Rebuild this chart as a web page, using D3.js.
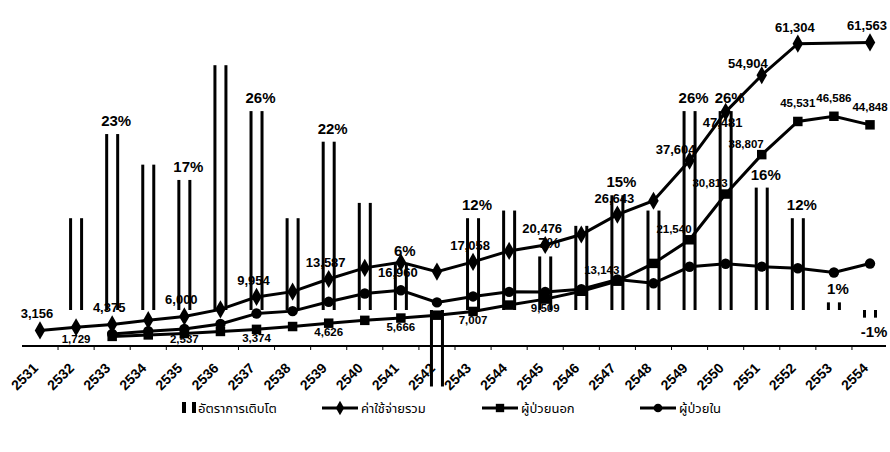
<!DOCTYPE html>
<html>
<head>
<meta charset="utf-8">
<script src="https://cdn.jsdelivr.net/npm/d3@7/dist/d3.min.js"></script>
<style>
    body { margin: 0; background: #fff; }
    svg { display: block; }
</style>
</head>
<body>
<div id="chart"></div>
<script>
// Thai fiscal years
const years = ["2531","2532","2533","2534","2535","2536","2537","2538","2539","2540","2541","2542",
    "2543","2544","2545","2546","2547","2548","2549","2550","2551","2552","2553","2554"];

// growth rate (%) - bars
const growth = [null, 12, 23, 19, 17, 32, 26, 12, 22, 14, 6, -10, 12, 13, 7, 11, 15, 13, 26, 26, 16, 12, 1, -1];
const growthLabels = [null, null, "23%", null, "17%", null, "26%", null, "22%", null, "6%", null,
    "12%", null, "7%", null, "15%", null, "26%", "26%", "16%", "12%", "1%", "-1%"];

// total expenditure
const total = [3156, 3800, 4375, 5240, 6000, 7430, 9954, 11020, 13587, 15840, 16960, 15090,
    17058, 19280, 20476, 22610, 26643, 29460, 37604, 47481, 54904, 61304, null, 61563];
const totalLabels = ["3,156", null, "4,375", null, "6,000", null, "9,954", null, "13,587", null, "16,960", null,
    "17,058", null, "20,476", null, "26,643", null, "37,604", "47,481", "54,904", "61,304", null, "61,563"];
const totalLabelPos = ["a", null, "a", null, "a", null, "a", null, "a", null, "b", null,
    "a", null, "a", null, "a", null, "l", "b", "l", "a", null, "a"];

// outpatient
const outpatient = [null, null, 1950, 2250, 2537, 2950, 3374, 3950, 4626, 5200, 5666, 6250,
    7007, 8300, 9509, 11100, 13143, 16750, 21540, 30813, 38807, 45531, 46586, 44848];
const outLabels = [null, "1,729", null, null, "2,537", null, "3,374", null, "4,626", null, "5,666", null,
    "7,007", null, "9,509", null, "13,143", null, "21,540", "30,813", "38,807", "45,531", "46,586", "44,848"];
const outLabelPos = [null, "b", null, null, "b", null, "b", null, "b", null, "b", null,
    "b", null, "b", null, "l", null, "l", "l", "l", "a", "a", "a"];

// inpatient
const inpatient = [null, null, 2425, 2990, 3463, 4480, 6580, 7070, 8961, 10640, 11294, 8840,
    10051, 10980, 10967, 11510, 13500, 12710, 16064, 16668, 16097, 15773, 14900, 16715];

const legendNames = ["อัตราการเติบโต", "ค่าใช้จ่ายรวม", "ผู้ป่วยนอก", "ผู้ป่วยใน"];

function main() {
    let width = 890;
    let height = 452;
    let numFont = "'Liberation Sans', Arial, sans-serif";
    let thaiFont = "'Noto Sans Thai', 'Noto Sans Thai Looped', Tahoma, 'DejaVu Sans', sans-serif";

    let svg = d3.select("#chart").append("svg")
        .attr("width", width)
        .attr("height", height);

    let xScale = d3.scalePoint().domain(years).range([40, 870]);
    let yScale = d3.scaleLinear().domain([0, 70000]).range([346, 0.8]);
    // secondary scale for growth %
    let pScale = d3.scaleLinear().domain([-10, 40]).range([386.5, 4]);
    let step = xScale.step();

    let rows = years.map(function(y, i) {
        return {year: y, g: growth[i], gl: growthLabels[i],
            t: total[i], tl: totalLabels[i], tp: totalLabelPos[i],
            o: outpatient[i], ol: outLabels[i], op: outLabelPos[i],
            n: inpatient[i]};
    });

    // bars: only side edges drawn
    let bars = svg.append("g").selectAll("g")
        .data(rows.filter(d => d.g != null))
        .enter().append("g");
    bars.append("rect")
        .attr("x", d => xScale(d.year) - 7)
        .attr("y", d => pScale(Math.max(0, d.g)))
        .attr("width", 3)
        .attr("height", d => Math.abs(pScale(d.g) - pScale(0)))
        .attr("fill", "black");
    bars.append("rect")
        .attr("x", d => xScale(d.year) + 4)
        .attr("y", d => pScale(Math.max(0, d.g)))
        .attr("width", 3)
        .attr("height", d => Math.abs(pScale(d.g) - pScale(0)))
        .attr("fill", "black");

    // baseline + small ticks
    svg.append("line")
        .attr("x1", 22).attr("x2", 886)
        .attr("y1", 346).attr("y2", 346)
        .attr("stroke", "black").attr("stroke-width", 2);
    svg.append("g").selectAll("line")
        .data(years.slice(1))
        .enter().append("line")
        .attr("x1", d => xScale(d) - step / 2)
        .attr("x2", d => xScale(d) - step / 2)
        .attr("y1", 346).attr("y2", 350)
        .attr("stroke", "black").attr("stroke-width", 1);

    // lines
    let line = d3.line()
        .x(d => xScale(d.year))
        .y(d => yScale(d.v));
    let series = [
        {key: "t", sym: d3.symbolDiamond, size: 95},
        {key: "o", sym: d3.symbolSquare, size: 90},
        {key: "n", sym: d3.symbolCircle, size: 85}
    ];
    series.forEach(function(s) {
        let pts = rows.filter(d => d[s.key] != null).map(d => ({year: d.year, v: d[s.key]}));
        svg.append("path")
            .datum(pts)
            .attr("d", line)
            .attr("fill", "none")
            .attr("stroke", "black")
            .attr("stroke-width", 3);
        svg.append("g").selectAll("path")
            .data(pts)
            .enter().append("path")
            .attr("transform", d => "translate(" + xScale(d.year) + "," + yScale(d.v) + ")")
            .attr("d", d3.symbol().type(s.sym).size(s.size))
            .attr("fill", "black");
    });

    // growth labels
    svg.append("g").selectAll("text")
        .data(rows.filter(d => d.gl))
        .enter().append("text")
        .attr("x", d => xScale(d.year) + 4)
        .attr("y", d => d.g >= 0 ? pScale(d.g) - 8 : pScale(d.g) + 19)
        .attr("text-anchor", "middle")
        .attr("font-family", numFont)
        .attr("font-weight", "bold")
        .attr("font-size", "15px")
        .text(d => d.gl);

    // total labels
    svg.append("g").selectAll("text")
        .data(rows.filter(d => d.tl))
        .enter().append("text")
        .attr("x", function(d) {
            return d.tp == "l" ? xScale(d.year) + 6 : xScale(d.year) - 3;
        })
        .attr("y", function(d) {
            if (d.tp == "b") return yScale(d.t) + 15;
            if (d.tp == "l") return yScale(d.t) - 7;
            return yScale(d.t) - 12;
        })
        .attr("text-anchor", d => d.tp == "l" ? "end" : "middle")
        .attr("font-family", numFont)
        .attr("font-weight", "bold")
        .attr("font-size", "13px")
        .text(d => d.tl);

    // outpatient labels
    svg.append("g").selectAll("text")
        .data(rows.filter(d => d.ol))
        .enter().append("text")
        .attr("x", function(d) {
            return d.op == "l" ? xScale(d.year) + 2 : xScale(d.year);
        })
        .attr("y", function(d) {
            let v = +d.ol.replace(",", "");
            if (d.op == "b") return Math.min(yScale(v) + 13, 343);
            if (d.op == "l") return yScale(v) - 7;
            return yScale(v) - 14;
        })
        .attr("text-anchor", d => d.op == "l" ? "end" : "middle")
        .attr("font-family", numFont)
        .attr("font-weight", "bold")
        .attr("font-size", "11.5px")
        .text(d => d.ol);

    // x tick labels
    svg.append("g").selectAll("text")
        .data(years)
        .enter().append("text")
        .attr("transform", d => "translate(" + (xScale(d) - 1) + ",369) rotate(-45)")
        .attr("text-anchor", "end")
        .attr("font-family", numFont)
        .attr("font-weight", "bold")
        .attr("font-size", "14px")
        .text(d => d);

    // legend
    let ly = 408;
    let legend = svg.append("g");
    legend.append("rect").attr("x", 182).attr("y", ly - 6).attr("width", 4).attr("height", 11).attr("fill", "black");
    legend.append("rect").attr("x", 192).attr("y", ly - 6).attr("width", 4).attr("height", 11).attr("fill", "black");
    let items = [
        {x: 322, sym: d3.symbolDiamond, size: 60},
        {x: 482, sym: d3.symbolSquare, size: 70},
        {x: 640, sym: d3.symbolCircle, size: 60}
    ];
    items.forEach(function(it) {
        legend.append("line")
            .attr("x1", it.x).attr("x2", it.x + 36)
            .attr("y1", ly).attr("y2", ly)
            .attr("stroke", "black").attr("stroke-width", 3);
        legend.append("path")
            .attr("transform", "translate(" + (it.x + 18) + "," + ly + ")")
            .attr("d", d3.symbol().type(it.sym).size(it.size))
            .attr("fill", "black");
    });
    let textX = [198, 361, 521, 679];
    legend.selectAll("text")
        .data(legendNames)
        .enter().append("text")
        .attr("x", (d, i) => textX[i])
        .attr("y", ly + 5)
        .attr("font-family", thaiFont)
        .attr("font-size", "13px")
        .text(d => d);
}

main();
</script>
</body>
</html>
